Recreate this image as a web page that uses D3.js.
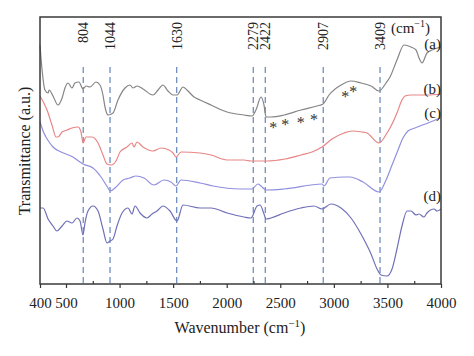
<!DOCTYPE html>
<html>
<head>
<meta charset="utf-8">
<script src="https://cdn.jsdelivr.net/npm/d3@7"></script>
<style>
  html, body { margin: 0; padding: 0; background: #fff; }
  svg text { font-family: "Liberation Serif", "Times New Roman", "DejaVu Serif", serif; }
</style>
</head>
<body>
<svg id="chart" width="474" height="356"></svg>
<script>
// ---------- data (wavenumber in cm-1, transmittance in a.u.) ----------
const seriesNames = ["(a)", "(b)", "(c)", "(d)"];

const seriesA = [[400,239],[408,214],[419,194],[431,191],[435,194],[450,188],[469,179],[485,186],[496,196],[519,201],[556,196],[584,201],[621,202],[659,195],[687,198],[724,197],[780,202],[817,199],[845,189],[864,177],[892,169],[939,171],[985,184],[1051,196],[1097,199],[1125,196],[1163,198],[1219,195],[1312,189],[1359,194],[1405,199],[1452,193],[1499,189],[1536,189],[1592,197],[1629,194],[1695,187],[1751,184],[1853,179],[2003,172],[2161,169],[2236,168],[2273,174],[2320,187],[2348,179],[2367,167],[2413,167],[2535,169],[2693,174],[2843,178],[2899,180],[2955,189],[3067,199],[3160,203],[3253,201],[3347,198],[3421,193],[3487,201],[3524,207],[3589,224],[3655,239],[3720,237],[3767,234],[3795,226],[3823,221],[3869,231],[3916,234],[4000,237]];

const seriesB = [[400,188],[427,174],[446,159],[462,147],[469,147],[485,152],[509,154],[556,156],[612,157],[640,152],[659,141],[687,147],[743,147],[799,141],[845,129],[883,120],[920,119],[967,123],[1004,132],[1069,137],[1116,141],[1135,137],[1163,142],[1219,137],[1312,133],[1387,136],[1461,134],[1499,131],[1527,127],[1573,132],[1751,131],[1853,129],[2003,124],[2161,124],[2227,123],[2376,123],[2544,125],[2693,129],[2796,132],[2889,137],[2983,145],[3095,151],[3169,153],[3263,152],[3309,151],[3421,141],[3496,151],[3524,156],[3589,171],[3636,184],[3664,188],[3720,189],[3869,189],[4000,190]];

const seriesC = [[400,162],[415,151],[435,142],[450,137],[481,132],[565,127],[631,122],[659,120],[752,116],[827,107],[892,96],[911,93],[967,97],[1032,104],[1097,106],[1153,108],[1228,106],[1321,99],[1415,104],[1480,102],[1527,98],[1573,104],[1751,101],[1872,98],[2124,95],[2236,95],[2292,100],[2320,98],[2367,94],[2535,95],[2889,100],[2908,98],[2964,106],[3104,107],[3151,107],[3272,102],[3421,92],[3487,104],[3543,119],[3599,134],[3645,146],[3692,153],[3757,156],[3804,158],[3879,161],[3991,166]];

const seriesD = [[400,76],[412,76],[431,65],[450,58],[465,53],[485,58],[509,63],[556,61],[603,66],[631,63],[659,49],[677,61],[705,73],[752,78],[799,73],[845,55],[883,41],[911,43],[939,45],[976,58],[1023,71],[1079,76],[1116,70],[1144,78],[1191,71],[1256,66],[1303,70],[1349,73],[1405,78],[1471,73],[1536,63],[1592,79],[1751,76],[1853,76],[2003,71],[2161,67],[2227,66],[2283,78],[2311,79],[2348,70],[2367,65],[2413,66],[2535,71],[2693,76],[2815,78],[2889,75],[2973,80],[3067,76],[3160,66],[3253,50],[3347,30],[3403,15],[3440,9],[3496,8],[3543,15],[3589,35],[3636,58],[3683,73],[3720,73],[3767,69],[3795,70],[3841,67],[3869,71],[3935,75],[3963,73],[4000,75]];

// positions of the dashed reference lines (as drawn) and their printed labels
const peakLines = [661, 911, 1533, 2248, 2360, 2901, 3431];
const peakLabels = ["804", "1044", "1630", "2279", "2422", "2907", "3409"];

// asterisk annotations [wavenumber, transmittance]
const asterisks = [[2435,159],[2547,162],[2690,164],[2815,167],[3107,190],[3181,195]];

// axis ticks
const xMajorTicks = [400, 500, 1000, 1500, 2000, 2500, 3000, 3500, 4000];
const xMinorTicks = [750, 1250, 1750, 2250, 2750, 3250, 3750];

// ---------- drawing ----------
const svg = d3.select("#chart");
const L = 40, R = 441, T = 17, B = 284;

const x = d3.scaleLinear().domain([400, 500, 4000]).range([L, 66, R]);
const y = d3.scaleLinear().domain([0, 267]).range([B, T]);

const colors = ["#858585", "#e88585", "#9090de", "#7070b8"];
const allSeries = [seriesA, seriesB, seriesC, seriesD];

// dashed lines
svg.append("g").selectAll("line").data(peakLines).join("line")
  .attr("x1", d => x(d)).attr("x2", d => x(d))
  .attr("y1", y(217)).attr("y2", B)
  .attr("stroke", "#6f8fc0").attr("stroke-width", 1.3)
  .attr("stroke-dasharray", "6,4");

// peak labels
svg.append("g").selectAll("text").data(peakLines).join("text")
  .attr("transform", d => `translate(${x(d)},22) rotate(-90)`)
  .attr("text-anchor", "end")
  .attr("dy", "0.36em")
  .attr("font-size", 14)
  .attr("fill", "#222")
  .text((d, i) => peakLabels[i]);

// curves
const line = d3.line().x(d => x(d[0])).y(d => y(d[1])).curve(d3.curveMonotoneX);
svg.append("g").selectAll("path").data(allSeries).join("path")
  .attr("d", line)
  .attr("fill", "none")
  .attr("stroke", (d, i) => colors[i])
  .attr("stroke-width", 1.2);

// asterisks
svg.append("g").selectAll("text").data(asterisks).join("text")
  .attr("x", d => x(d[0])).attr("y", d => y(d[1]))
  .attr("dy", "0.5em")
  .attr("text-anchor", "middle")
  .attr("font-size", 16)
  .attr("fill", "#333")
  .text("*");

// x axis
const axis = svg.append("g").attr("transform", `translate(0,${B})`)
  .call(d3.axisBottom(x).tickValues(xMajorTicks).tickFormat(d3.format("d"))
    .tickSize(4).tickSizeOuter(0).tickPadding(9));
axis.select(".domain").remove();
axis.selectAll("line").attr("stroke", "#333").attr("stroke-width", 1.2);
axis.selectAll("text").attr("font-size", 15).attr("fill", "#222")
  .style("font-family", '"Liberation Serif", "Times New Roman", serif');

const minor = svg.append("g").attr("transform", `translate(0,${B})`)
  .call(d3.axisBottom(x).tickValues(xMinorTicks).tickFormat("").tickSize(-3).tickSizeOuter(0));
minor.select(".domain").remove();
minor.selectAll("line").attr("stroke", "#333").attr("stroke-width", 1.2);

// frame
svg.append("rect").attr("x", L).attr("y", T).attr("width", R - L).attr("height", B - T)
  .attr("fill", "none").attr("stroke", "#3a3a3a").attr("stroke-width", 1.5);

// series labels (right-aligned at the frame)
const labelY = [235, 190, 166, 83];
svg.append("g").selectAll("text").data(seriesNames).join("text")
  .attr("x", R)
  .attr("y", (d, i) => y(labelY[i]))
  .attr("text-anchor", "end")
  .attr("font-size", 15)
  .attr("fill", "#222")
  .text(d => d);

// unit label
const unit = svg.append("text").attr("x", 391).attr("y", 33).attr("font-size", 15).attr("fill", "#222");
unit.append("tspan").text("(cm");
unit.append("tspan").attr("font-size", 10).attr("dy", -6).text("−1");
unit.append("tspan").attr("dy", 6).text(")");

// axis titles
const xt = svg.append("text").attr("x", 240).attr("y", 333)
  .attr("text-anchor", "middle").attr("font-size", 16).attr("fill", "#222");
xt.append("tspan").text("Wavenumber (cm");
xt.append("tspan").attr("font-size", 11).attr("dy", -6).text("−1");
xt.append("tspan").attr("dy", 6).text(")");

svg.append("text")
  .attr("transform", "translate(30,151) rotate(-90)")
  .attr("text-anchor", "middle").attr("font-size", 16).attr("fill", "#222")
  .text("Transmittance (a.u.)");
</script>
</body>
</html>
